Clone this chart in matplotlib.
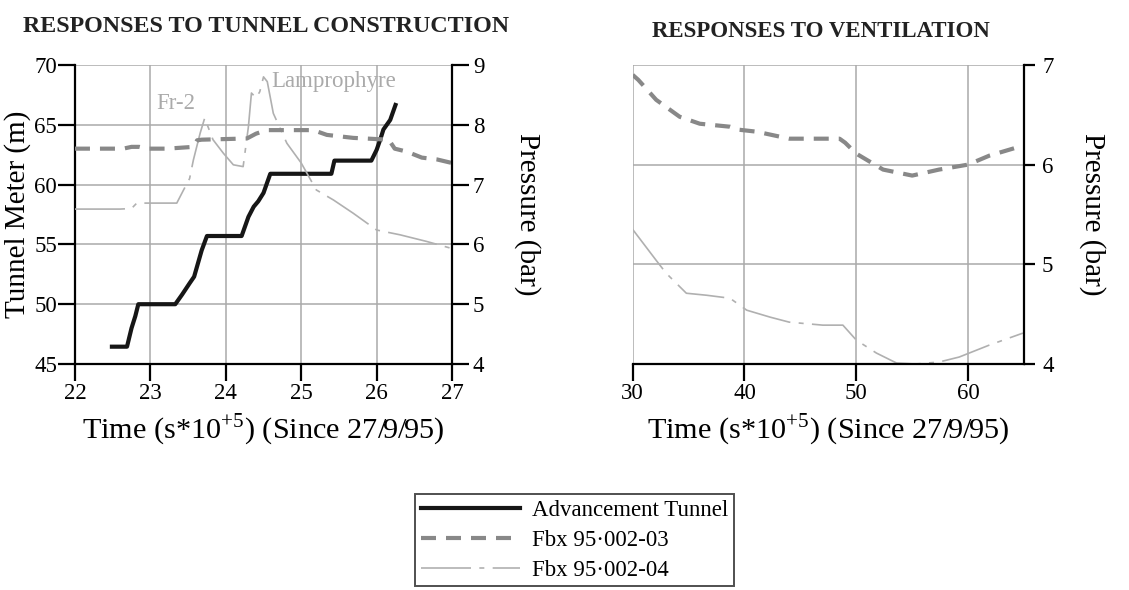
import matplotlib
matplotlib.use("Agg")
import matplotlib.pyplot as plt

plt.rcParams['font.family'] = ['Liberation Serif', 'DejaVu Serif']
plt.rcParams['mathtext.fontset'] = 'custom'
plt.rcParams['mathtext.rm'] = 'Liberation Serif'

# tunnel construction period (time in s*1e5)
tunnel_t = [22.49, 22.69, 22.75, 22.80, 22.84, 23.33, 23.42, 23.52, 23.58, 23.68, 23.75,
            24.21, 24.30, 24.37, 24.43, 24.50, 24.59, 25.40, 25.44, 25.93, 26.00, 26.05,
            26.09, 26.18, 26.25]
tunnel_m = [46.45, 46.45, 48.0, 49.0, 50.0, 50.0, 50.8, 51.75, 52.3, 54.5, 55.7,
            55.7, 57.3, 58.15, 58.6, 59.3, 60.9, 60.9, 62.0, 62.0, 62.9, 63.8,
            64.6, 65.4, 66.65]

f3_t = [22.0, 22.64, 22.75, 22.85, 22.95, 23.22, 23.57, 23.62, 23.68, 24.28, 24.40,
        24.54, 25.16, 25.34, 25.69, 26.16, 26.24, 26.40, 26.60, 26.80, 27.0]
f3_p = [7.60, 7.60, 7.63, 7.63, 7.60, 7.60, 7.63, 7.74, 7.75, 7.77, 7.85,
        7.91, 7.91, 7.83, 7.78, 7.75, 7.60, 7.55, 7.45, 7.42, 7.36]

f4_t = [22.0, 22.6, 22.75, 22.82, 23.35, 23.44, 23.52, 23.57, 23.66, 23.72, 23.83,
        23.97, 24.10, 24.23, 24.30, 24.34, 24.40, 24.45, 24.50, 24.55, 24.63, 24.81,
        25.0, 25.2, 25.43, 25.69, 26.0, 26.31, 26.66, 27.0]
f4_p = [6.59, 6.59, 6.60, 6.69, 6.69, 6.91, 7.10, 7.41, 7.86, 8.11, 7.75,
        7.52, 7.33, 7.30, 7.97, 8.53, 8.45, 8.55, 8.80, 8.72, 8.19, 7.69,
        7.36, 6.91, 6.74, 6.52, 6.24, 6.16, 6.05, 5.93]

# ventilation period
v_t3 = [30.0, 30.5, 32.1, 34.2, 36.0, 38.7, 39.5, 41.1, 44.0, 48.5, 49.0, 50.0,
        52.4, 55.0, 57.4, 60.0, 61.9, 64.9]
v_p3 = [6.90, 6.85, 6.65, 6.48, 6.41, 6.38, 6.35, 6.33, 6.26, 6.26, 6.22, 6.11,
        5.95, 5.89, 5.95, 6.00, 6.09, 6.19]
v_t4 = [30.0, 32.1, 33.0, 34.8, 36.6, 38.7, 40.2, 42.3, 44.0, 47.0, 48.8, 50.0,
        51.8, 53.6, 55.3, 57.4, 59.2, 61.9, 64.9]
v_p4 = [5.35, 5.04, 4.91, 4.71, 4.69, 4.66, 4.54, 4.47, 4.42, 4.39, 4.39, 4.24,
        4.11, 4.01, 4.00, 4.02, 4.07, 4.19, 4.31]

left_xticks = [22, 23, 24, 25, 26, 27]
left_yticks = [45, 50, 55, 60, 65, 70]
p_ticks_left = [4, 5, 6, 7, 8, 9]
right_xticks = [30, 40, 50, 60]
p_ticks_right = [4, 5, 6, 7]

labels = ['Advancement Tunnel', 'Fbx 95\u00b7002-03', 'Fbx 95\u00b7002-04']

TICK = 16.5
LAB = 21
GRID = '#aaaaaa'
xlab = r'Time (s*10$^{+5}$) (Since 27/9/95)'

s3 = dict(color='#888888', lw=3.0, linestyle=(0, (3.6, 2.4)))
s4 = dict(color='#b0b0b0', lw=1.2, linestyle=(0, (30, 5, 3, 5)))

fig = plt.figure(figsize=(11.29, 5.9), dpi=100)

# ---- left panel ----
ax = fig.add_axes([0.0664, 0.383, 0.334, 0.507])
ax.set_xlim(22, 27)
ax.set_ylim(45, 70)
ax.set_xticks(left_xticks)
ax.set_yticks(left_yticks)
ax.grid(True, color=GRID, lw=1.1)
ax.set_axisbelow(True)
ax.spines['top'].set_visible(False)
ax.spines['right'].set_visible(False)
for s in ('left', 'bottom'):
    ax.spines[s].set_linewidth(1.6)
ax.tick_params(direction='out', length=12, width=1.6, labelsize=TICK, pad=2)
ax.tick_params(axis='y', pad=1)
h1, = ax.plot(tunnel_t, tunnel_m, color='#161616', lw=3.0, label=labels[0])
ax.set_ylabel('Tunnel Meter (m)', fontsize=LAB, va='center')
ax.yaxis.set_label_coords(-0.151, 0.5)
ax.set_xlabel(xlab, fontsize=21.8, va='center')
ax.xaxis.set_label_coords(0.5, -0.22)

ax2 = ax.twinx()
ax2.set_ylim(4, 9)
ax2.set_yticks(p_ticks_left)
for s in ('top', 'left', 'bottom'):
    ax2.spines[s].set_visible(False)
ax2.spines['right'].set_linewidth(1.6)
ax2.tick_params(direction='out', length=12, width=1.6, labelsize=TICK, pad=3)
h4, = ax2.plot(f4_t, f4_p, **s4, label=labels[2])
h3, = ax2.plot(f3_t, f3_p, **s3, label=labels[1])
ax2.set_ylabel('Pressure (bar)', fontsize=LAB, rotation=270, va='center')
ax2.yaxis.set_label_coords(1.2, 0.5)
ax.text(23.34, 66.8, 'Fr-2', color='#aaaaaa', fontsize=TICK, ha='center', va='center')
ax.text(25.43, 68.6, 'Lamprophyre', color='#aaaaaa', fontsize=TICK, ha='center', va='center')
ax.set_title('RESPONSES TO TUNNEL CONSTRUCTION', fontsize=17.3, fontweight='bold',
             color='#222222', x=0.507, pad=24)

# ---- right panel ----
bx = fig.add_axes([0.5604, 0.383, 0.3466, 0.507])
bx.set_xlim(30, 65)
bx.set_ylim(4, 7)
bx.set_xticks(right_xticks)
bx.set_yticks(p_ticks_right)
bx.yaxis.tick_right()
bx.grid(True, color=GRID, lw=1.1)
bx.set_axisbelow(True)
bx.spines['top'].set_visible(False)
bx.spines['left'].set_visible(False)
for s in ('right', 'bottom'):
    bx.spines[s].set_linewidth(1.6)
bx.tick_params(direction='out', length=12, width=1.6, labelsize=TICK, pad=2)
bx.tick_params(axis='y', length=8, pad=5)
bx.plot(v_t4, v_p4, **s4)
bx.plot(v_t3, v_p3, **s3)
bx.yaxis.set_label_position('right')
bx.set_ylabel('Pressure (bar)', fontsize=LAB, rotation=270, va='center')
bx.yaxis.set_label_coords(1.176, 0.5)
bx.set_xlabel(xlab, fontsize=21.8, va='center')
bx.xaxis.set_label_coords(0.5, -0.22)
bx.set_title('RESPONSES TO VENTILATION', fontsize=16.5, fontweight='bold',
             color='#222222', x=0.48, pad=20)

leg = fig.legend([h1, h3, h4], labels, loc='center', bbox_to_anchor=(0.509, 0.084),
                 fontsize=16.5, frameon=True, fancybox=False, handlelength=4.3,
                 handletextpad=0.55, labelspacing=0.38, borderpad=0.25)
leg.get_frame().set_edgecolor('#222222')
leg.get_frame().set_linewidth(1.4)

fig.savefig('out.png', dpi=100)
